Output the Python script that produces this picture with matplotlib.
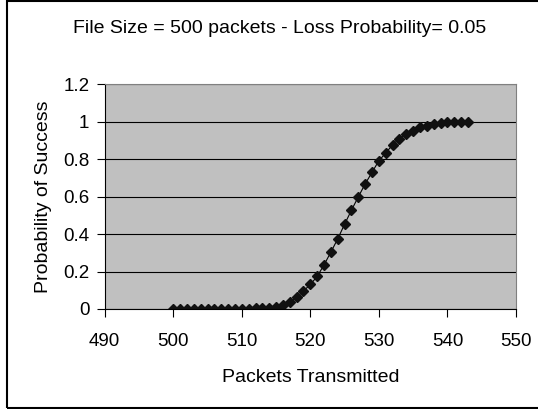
import matplotlib
matplotlib.use('Agg')
import matplotlib.pyplot as plt
from matplotlib.patches import Rectangle

plt.rcParams['font.family'] = ['Liberation Sans', 'DejaVu Sans']

# packets transmitted vs probability that the whole file gets through
packets = list(range(500, 544))
prob = [0, 0, 0, 0, 0, 0, 0, 0, 0, 0,
        0.001, 0.002, 0.003, 0.005, 0.007, 0.011, 0.020, 0.037, 0.064, 0.096,
        0.131, 0.174, 0.236, 0.304, 0.375, 0.453, 0.528, 0.599, 0.668, 0.730,
        0.792, 0.833, 0.877, 0.909, 0.934, 0.952, 0.970, 0.979, 0.986, 0.991,
        0.996, 0.997, 0.998, 0.999]

xticks = [490, 500, 510, 520, 530, 540, 550]
yticks = [0, 0.2, 0.4, 0.6, 0.8, 1, 1.2]
ytick_labels = ['0', '0.2', '0.4', '0.6', '0.8', '1', '1.2']

fig = plt.figure(figsize=(5.38, 4.09), dpi=100)
# outer chart frame (right edge runs off the image)
fig.patches.append(Rectangle((0.0135, 0.002), 1.1, 0.996, transform=fig.transFigure,
                             fill=False, edgecolor='black', linewidth=1.5))

ax = fig.add_axes([0.1946, 0.2445, 0.7645, 0.5494])
ax.set_facecolor('#C0C0C0')
ax.plot(packets, prob, color='black', linewidth=0.8, marker='D', markersize=5.5,
        markerfacecolor='#111111', markeredgecolor='#111111')

ax.set_xlim(490, 550)
ax.set_ylim(0, 1.2)
ax.set_xticks(xticks)
ax.set_yticks(yticks)
ax.set_yticklabels(ytick_labels)
ax.grid(axis='y', color='black', linewidth=0.8)
ax.set_axisbelow(True)

for s in ['top', 'right']:
    ax.spines[s].set_color('#808080')
ax.spines['left'].set_color('black')
ax.spines['bottom'].set_color('black')
ax.tick_params(direction='out', length=6, width=0.8, labelsize=13.5, pad=5)
ax.tick_params(axis='x', pad=11)

ax.set_xlabel('Packets Transmitted', fontsize=14, labelpad=14)
ax.set_ylabel('Probability of Success', fontsize=14, labelpad=8)
fig.text(0.519, 0.931, 'File Size = 500 packets - Loss Probability= 0.05',
         ha='center', va='center', fontsize=14)

fig.savefig('out.png', dpi=100)
